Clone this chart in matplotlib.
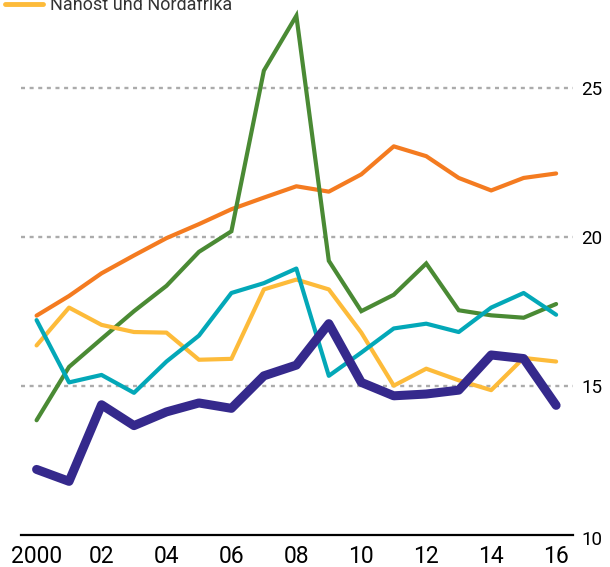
import matplotlib
matplotlib.use("Agg")
import matplotlib.pyplot as plt
from matplotlib.lines import Line2D
import matplotlib.transforms as mtransforms

years = list(range(2000, 2017))
orange = [17.36, 18.02, 18.78, 19.38, 19.96, 20.43, 20.93, 21.32, 21.70, 21.52, 22.10, 23.04, 22.71, 21.98, 21.56, 21.98, 22.13]
green = [13.85, 15.64, 16.58, 17.51, 18.36, 19.50, 20.19, 25.58, 27.42, 19.20, 17.51, 18.06, 19.11, 17.54, 17.37, 17.29, 17.75]
teal = [17.21, 15.12, 15.37, 14.77, 15.82, 16.69, 18.12, 18.45, 18.94, 15.34, 16.12, 16.93, 17.09, 16.81, 17.63, 18.12, 17.39]
yellow = [16.36, 17.63, 17.05, 16.81, 16.79, 15.88, 15.91, 18.24, 18.57, 18.24, 16.79, 15.01, 15.58, 15.19, 14.86, 15.94, 15.82]
navy = [12.20, 11.80, 14.37, 13.67, 14.13, 14.43, 14.25, 15.34, 15.70, 17.09, 15.12, 14.67, 14.73, 14.86, 16.04, 15.92, 14.35]

xtick_vals = [2000, 2002, 2004, 2006, 2008, 2010, 2012, 2014, 2016]
xtick_labels = ["2000", "02", "04", "06", "08", "10", "12", "14", "16"]
ytick_vals = [10, 15, 20, 25]
legend_label = "Nahost und Nordafrika"

plt.rcParams['font.family'] = ['Roboto', 'DejaVu Sans']

W, H = 610, 567
fig = plt.figure(figsize=(W / 100, H / 100), dpi=100)
left_px, right_px, bottom_px = 21, 573, 535
ax = fig.add_axes([left_px / W, (H - bottom_px) / H, (right_px - left_px) / W, bottom_px / H])

ax.set_xlim(1999.52, 2016.52)
ax.set_ylim(10, 27.95)

for y in [15, 20, 25]:
    ax.axhline(y, color="#ABABAB", lw=1.7, linestyle=(0, (1.7, 1.95)), zorder=1)
ax.axhline(10, color="black", lw=1.6, zorder=1, clip_on=False)

ax.plot(years, orange, color="#F47B20", lw=3.0, solid_capstyle="round", solid_joinstyle="round", zorder=3)
ax.plot(years, green, color="#4A8A34", lw=3.0, solid_capstyle="round", solid_joinstyle="miter", zorder=3)
ax.plot(years, yellow, color="#FDBB3A", lw=3.0, solid_capstyle="round", solid_joinstyle="round", zorder=3)
ax.plot(years, teal, color="#03A8B8", lw=3.0, solid_capstyle="round", solid_joinstyle="round", zorder=3)
ax.plot(years, navy, color="#35298C", lw=6.5, solid_capstyle="round", solid_joinstyle="round", zorder=4)

for s in ax.spines.values():
    s.set_visible(False)

ax.set_xticks(xtick_vals)
ax.set_xticklabels(xtick_labels, fontsize=16.5)
ax.tick_params(axis="x", length=0, pad=7, colors="black")
ax.yaxis.tick_right()
ax.set_yticks(ytick_vals)
ax.set_yticklabels([str(v) for v in ytick_vals], fontsize=13.5)
ax.tick_params(axis="y", length=0, pad=6, colors="black")
# the bottom label sits slightly below the axis line
lab10 = ax.get_yticklabels()[0]
lab10.set_transform(lab10.get_transform() + mtransforms.ScaledTranslation(0, -3 / 100, fig.dpi_scale_trans))

# legend (partially cut at top, as in the reference)
fig.add_artist(Line2D([5 / W, 43 / W], [1 - 4 / H, 1 - 4 / H], transform=fig.transFigure,
                      color="#FDBB3A", lw=3.5, solid_capstyle="round"))
fig.text(50 / W, 1 - 10 / H, legend_label, fontsize=13, color="#333333", va="baseline", ha="left")

fig.savefig("out.png", dpi=100)
